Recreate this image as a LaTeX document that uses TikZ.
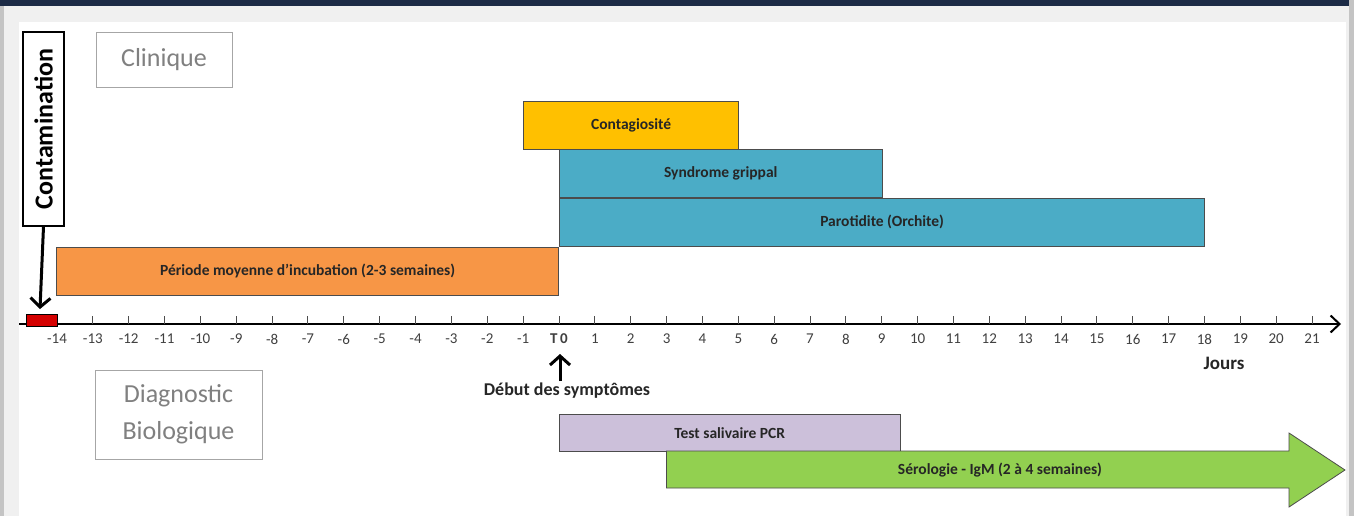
\documentclass[tikz,border=0pt]{standalone}
\usepackage{fontspec}
\setmainfont{Carlito}
\usetikzlibrary{positioning, arrows.meta}
\definecolor{bandeau}{HTML}{1C2B46}
\definecolor{cadre}{HTML}{F0F0F0}
\definecolor{bordure}{HTML}{C4C4C4}
\definecolor{cOrange}{HTML}{F79646}
\definecolor{cJaune}{HTML}{FFC000}
\definecolor{cBleu}{HTML}{4BACC6}
\definecolor{cMauve}{HTML}{CCC0DA}
\definecolor{cVert}{HTML}{92D050}
\definecolor{cRouge}{HTML}{D40000}
\newcommand{\pas}{35.86} % largeur d'un jour
\newcommand{\jour}[1]{559+\pas*(#1)} % abscisse du jour #1
\tikzset{
    barre/.style={ % barres de la frise
        draw=black!70,
        line width=0.8pt,
        inner sep=0pt,
        minimum height=48pt,
        anchor=north west,
        text=black!85,
        font=\fontsize{15.5}{18}\selectfont\bfseries
    },
    titre/.style={ % cadres gris Clinique / Diagnostic
        draw=black!35,
        line width=0.8pt,
        text=black!50,
        font=\fontsize{26}{37}\selectfont
    },
    etiquette/.style={ % numeros des jours
        text=black!75,
        inner sep=0pt,
        font=\fontsize{15}{18}\selectfont
    },
    fleche/.style={ % fleches noires
        draw,
        line width=3pt,
        -{Straight Barb[length=9pt,width=20pt]}
    },
    graduation/.style={draw=black!70, line width=1pt}
}

\begin{document}
\begin{tikzpicture}[x=1pt, y=-1pt]
        % cadre
        \useasboundingbox (0,0) rectangle (1354,516);
        \fill[bordure] (0,0) rectangle (1354,516);
        \fill[cadre]   (4,6) rectangle (1349,516);
        \fill[white]   (19,22) rectangle (1346,516);
        \fill[bandeau] (0,0) rectangle (1349,6);

        % titres
        \node[titre, minimum width=136pt, minimum height=55pt]  (clinique)   at (164,59.5)  {Clinique};
        \node[titre, minimum width=167pt, minimum height=89pt,
              align=center]                                      (diagnostic) at (178.5,414.5) {Diagnostic\\Biologique};

        % clinique
        \node[barre, fill=cJaune, minimum width=6*\pas pt]      (contagio)  at ({\jour{-1}},101) {Contagiosité};
        \node[barre, fill=cBleu, minimum width=9*\pas pt]       (grippal)   at ({\jour{0}},149)  {Syndrome grippal};
        \node[barre, fill=cBleu, minimum width=18*\pas pt,
              below=0pt of grippal.south west, anchor=north west] (parotid)  {Parotidite (Orchite)};
        \node[barre, fill=cOrange, minimum width=14*\pas pt,
              below=0pt of parotid.south west, anchor=north east] (incub)    {Période moyenne d'incubation (2-3 semaines)};

        % axe des jours
        \coordinate (debutaxe) at (19,324);
        \coordinate (finaxe)   at (1341,324);
        \draw[line width=2pt, -{Straight Barb[length=9pt,width=17pt]}] (debutaxe) -- (finaxe);
        \foreach \j in {-13,...,21}
            \draw[graduation] ({\jour{\j}},324) -- ++(0,-8);
        \foreach \j in {-14,...,-1}
            \node[etiquette] (j\j) at ({\jour{\j}},339) {\j};
        \foreach \j in {1,...,21}
            \node[etiquette] (j\j) at ({\jour{\j}},339) {\j};
        \node[etiquette, font=\fontsize{15}{18}\selectfont\bfseries] (t0) at ({\jour{0}},339) {T\,0};
        \node[etiquette, text=black!85, font=\fontsize{19}{22}\selectfont\bfseries] (jours) at (1224,363) {Jours};

        % contamination
        \node[draw, line width=1.5pt, rotate=90, minimum width=194pt, minimum height=41pt,
              font=\fontsize{26}{30}\selectfont\bfseries]        (contam)   at (43.5,129) {Contamination};
        \node[draw, fill=cRouge, line width=0.8pt, inner sep=0pt,
              minimum width=31pt, minimum height=12pt]           (rouge)    at (41.5,320) {};
        \coordinate (impact) at (40,309);
        \draw[fleche] (contam.west) -- (impact);

        % debut des symptomes
        \coordinate (debut)  at ({\jour{0}+1},381);
        \coordinate (pointe) at ({\jour{0}+1},354);
        \draw[fleche] (debut) -- (pointe);
        \node[inner sep=0pt, text=black!85, font=\fontsize{18}{21}\selectfont\bfseries,
              below=2pt of debut, xshift=7pt]                    (symptomes) {Début des symptômes};

        % diagnostic biologique
        \node[barre, fill=cMauve, minimum width=9.5*\pas pt,
              minimum height=37pt]                               (pcr)      at ({\jour{0}},414) {Test salivaire PCR};
        \fill[cVert, draw=black!70, line width=0.8pt]
              ({\jour{3}},451) -- (1289,451) -- (1289,433) -- (1345,470)
              -- (1289,507) -- (1289,488) -- ({\jour{3}},488) -- cycle;
        \node[inner sep=0pt, text=black!85,
              font=\fontsize{15.5}{18}\selectfont\bfseries]      (sero)     at (1000,470) {Sérologie - IgM (2 à 4 semaines)};
\end{tikzpicture}
\end{document}
